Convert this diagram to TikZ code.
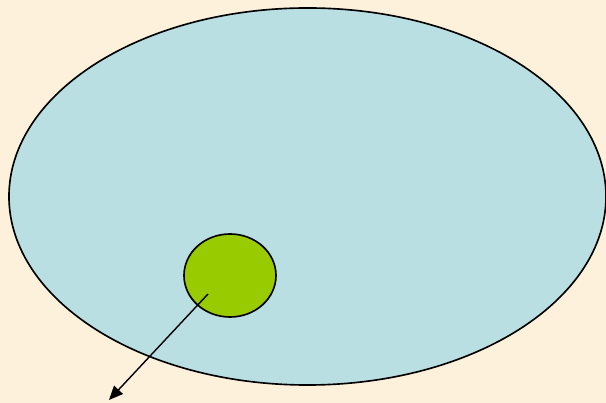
\documentclass[tikz,border=0pt]{standalone}
\usepackage{xcolor}
\usepackage{tikz}
\usetikzlibrary{shapes.geometric, arrows.meta}
\definecolor{parchment}{HTML}{FDF1DC}
\definecolor{lake}{HTML}{B9DFE3}
\definecolor{leaf}{HTML}{99CC00}

\begin{document}
\begin{tikzpicture}[
  x=0.03cm, y=-0.03cm,
  region/.style={ellipse, draw=black, line width=1.4pt, inner sep=0pt},
  arrow/.style={-{Triangle[length=0.42cm, width=0.36cm]}, line width=1.2pt},
]

  \fill[parchment] (0,0) rectangle (606,403);
  \useasboundingbox (0,0) rectangle (606,403);

  \node[region, fill=lake, minimum width=17.91cm, minimum height=11.31cm] (outer) at (307.5,196.5) {};
  \node[region, fill=leaf, minimum width=2.76cm, minimum height=2.49cm] (inner) at (230,275.5) {};

  \coordinate (tail) at (208,294);
  \coordinate (tip) at (109,400);
  \draw[arrow] (tail) -- (tip);

\end{tikzpicture}
\end{document}
